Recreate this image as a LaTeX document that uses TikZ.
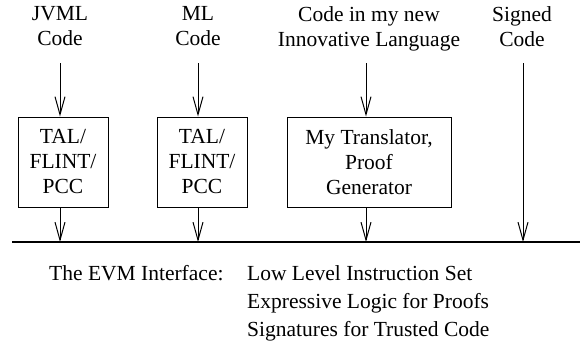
\documentclass[tikz,border=0pt]{standalone}
\usepackage{fontspec}
\setmainfont{Liberation Serif}
\usetikzlibrary{arrows.meta,positioning}

\tikzset{
  srclabel/.style={align=center,inner sep=0pt},
  srcbox/.style={draw,line width=1pt,minimum height=90pt,align=center,inner sep=0pt},
  flow/.style={-{Straight Barb[length=18pt,width=10pt]},line width=1pt},
  bus/.style={line width=2.6pt}
}

\begin{document}
\begin{tikzpicture}[x=1pt,y=-1pt,every node/.style={font=\fontsize{21.5}{25}\selectfont}]
\useasboundingbox (0,0) rectangle (580,346);

% sources
\node[srclabel,anchor=north] (jvml) at (60,6) {JVML\\Code};
\node[srclabel,anchor=north] (ml) at (198,6) {ML\\Code};
\node[srclabel,anchor=north] (newlang) at (369,6) {Code in my new\\Innovative Language};
\node[srclabel,anchor=north] (signed) at (522,6) {Signed\\Code};

% translators
\node[srcbox,minimum width=90pt] (tal1) at (63,162) {TAL/\\FLINT/\\PCC};
\node[srcbox,minimum width=90pt] (tal2) at (202,162) {TAL/\\FLINT/\\PCC};
\node[srcbox,minimum width=164pt] (trans) at (369,162) {My Translator,\\Proof\\Generator};

% the interface line
\coordinate (busL) at (12,242);
\coordinate (busR) at (580,242);
\draw[bus] (busL) -- (busR);

\coordinate (in1) at (60,63);
\coordinate (in2) at (198,63);
\coordinate (in3) at (366,63);
\coordinate (in4) at (523,63);

\draw[flow] (in1) -- (in1 |- tal1.north);
\draw[flow] (in2) -- (in2 |- tal2.north);
\draw[flow] (in3) -- (in3 |- trans.north);
\draw[flow] (in1 |- tal1.south) -- (in1 |- busL);
\draw[flow] (in2 |- tal2.south) -- (in2 |- busL);
\draw[flow] (in3 |- trans.south) -- (in3 |- busL);
\draw[flow] (in4) -- (in4 |- busL);

% interface text
\node[anchor=base west,inner sep=0pt] (evm) at (49,280) {The EVM Interface:};
\node[anchor=base west,inner sep=0pt] (low) at (247,280) {Low Level Instruction Set};
\node[anchor=base west,inner sep=0pt] (expr) at (247,308) {Expressive Logic for Proofs};
\node[anchor=base west,inner sep=0pt] (sig) at (247,336) {Signatures for Trusted Code};
\end{tikzpicture}
\end{document}
